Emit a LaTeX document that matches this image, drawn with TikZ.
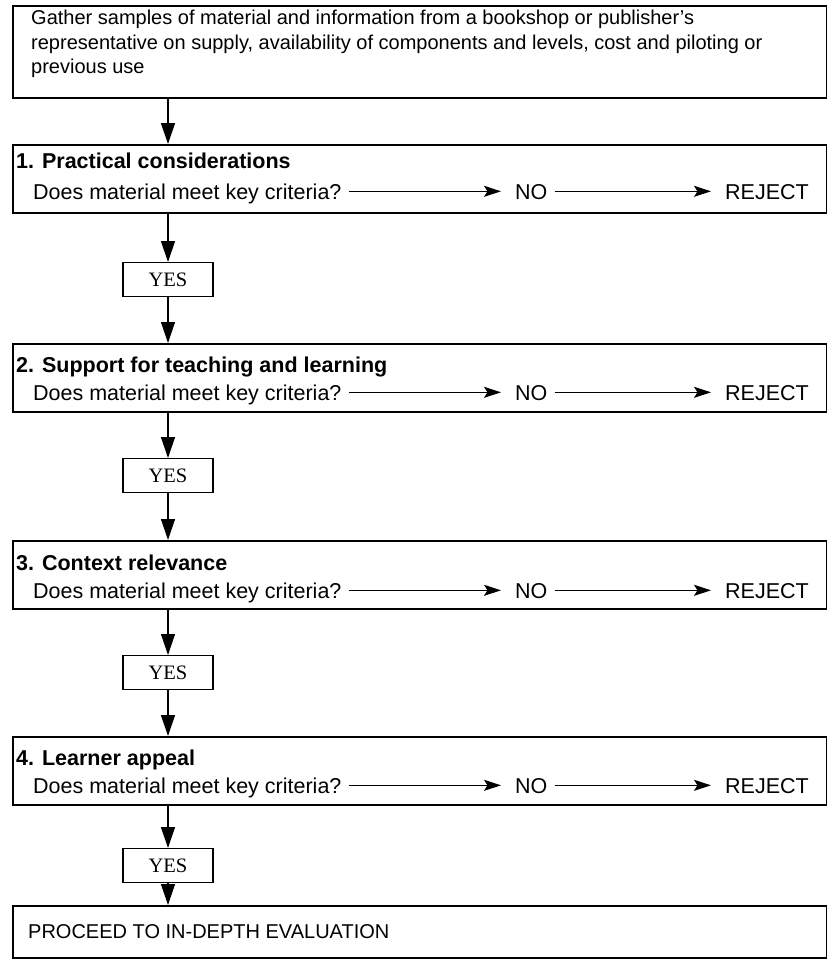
\documentclass[tikz,border=0pt]{standalone}
\usepackage{fontspec}
\setmainfont{Liberation Serif}
\setsansfont{Liberation Sans}
\usetikzlibrary{arrows.meta}
\begin{document}
\begin{tikzpicture}[x=1pt,y=-1pt,
  frame/.style={draw, line width=1.5pt, inner sep=0pt, anchor=north west,
                minimum width=814pt},
  stagetxt/.style={font=\sffamily\fontsize{21.5}{25}\selectfont, inner sep=0pt,
                   text height=15.4pt, text depth=0pt, anchor=base west},
  titletxt/.style={stagetxt, font=\sffamily\bfseries\fontsize{21.5}{25}\selectfont},
  yesbox/.style={draw, line width=1.2pt, minimum width=90pt, minimum height=34pt,
                 inner sep=0pt, anchor=north, font=\fontsize{20.5}{23}\selectfont},
  varrow/.style={line width=1.3pt, -{Triangle[length=21pt,width=14pt]}},
  harrow/.style={line width=1.3pt, -{Stealth[length=17pt,width=11pt,inset=3.5pt]},
                 shorten <=7pt, shorten >=14pt}]
\useasboundingbox (0,0) rectangle (827,970);

% opening step
\node[frame, minimum height=92pt] (top) at (12,5) {};
\node[anchor=north west, inner sep=0pt, align=left,
      font=\sffamily\fontsize{20}{24.5}\selectfont] (toptxt) at (31,10)
  {Gather samples of material and information from a bookshop or publisher's\\
   representative on supply, availability of components and levels, cost and piloting or\\
   previous use};

% stage 1
\node[frame, minimum height=68pt] (s1) at (12,144) {};
\node[titletxt] (t1) at (16,168) {1. Practical considerations};
\node[stagetxt] (d1) at (33,199) {Does material meet key criteria?};
\node[stagetxt] (n1) at (515,199) {NO};
\node[stagetxt] (r1) at (725,199) {REJECT};
\node[yesbox] (y1) at (168,262) {YES};

% stage 2
\node[frame, minimum height=68pt] (s2) at (12,343) {};
\node[titletxt] (t2) at (16,372) {2. Support for teaching and learning};
\node[stagetxt] (d2) at (33,400) {Does material meet key criteria?};
\node[stagetxt] (n2) at (515,400) {NO};
\node[stagetxt] (r2) at (725,400) {REJECT};
\node[yesbox] (y2) at (168,458) {YES};

% stage 3
\node[frame, minimum height=68pt] (s3) at (12,540) {};
\node[titletxt] (t3) at (16,570) {3. Context relevance};
\node[stagetxt] (d3) at (33,598) {Does material meet key criteria?};
\node[stagetxt] (n3) at (515,598) {NO};
\node[stagetxt] (r3) at (725,598) {REJECT};
\node[yesbox] (y3) at (168,655) {YES};

% stage 4
\node[frame, minimum height=68pt] (s4) at (12,736) {};
\node[titletxt] (t4) at (16,765) {4. Learner appeal};
\node[stagetxt] (d4) at (33,793) {Does material meet key criteria?};
\node[stagetxt] (n4) at (515,793) {NO};
\node[stagetxt] (r4) at (725,793) {REJECT};
\node[yesbox] (y4) at (168,848) {YES};

% closing step
\node[frame, minimum height=52pt] (fin) at (12,905) {};
\node[stagetxt, font=\sffamily\fontsize{20}{24}\selectfont] (fintxt) at (28,938)
  {PROCEED TO IN-DEPTH EVALUATION};

% rejection branches
\foreach \i in {1,2,3,4}{
  \draw[harrow] (d\i) -- (n\i);
  \draw[harrow] (n\i) -- (r\i);
}

% main flow
\draw[varrow] (y1 |- top.south) -- (y1 |- s1.north);
\draw[varrow] (s1.south -| y1) -- (y1);
\draw[varrow] (y1) -- (y1 |- s2.north);
\draw[varrow] (s2.south -| y2) -- (y2);
\draw[varrow] (y2) -- (y2 |- s3.north);
\draw[varrow] (s3.south -| y3) -- (y3);
\draw[varrow] (y3) -- (y3 |- s4.north);
\draw[varrow] (s4.south -| y4) -- (y4);
\draw[varrow] (y4) -- (y4 |- fin.north);
\end{tikzpicture}
\end{document}
